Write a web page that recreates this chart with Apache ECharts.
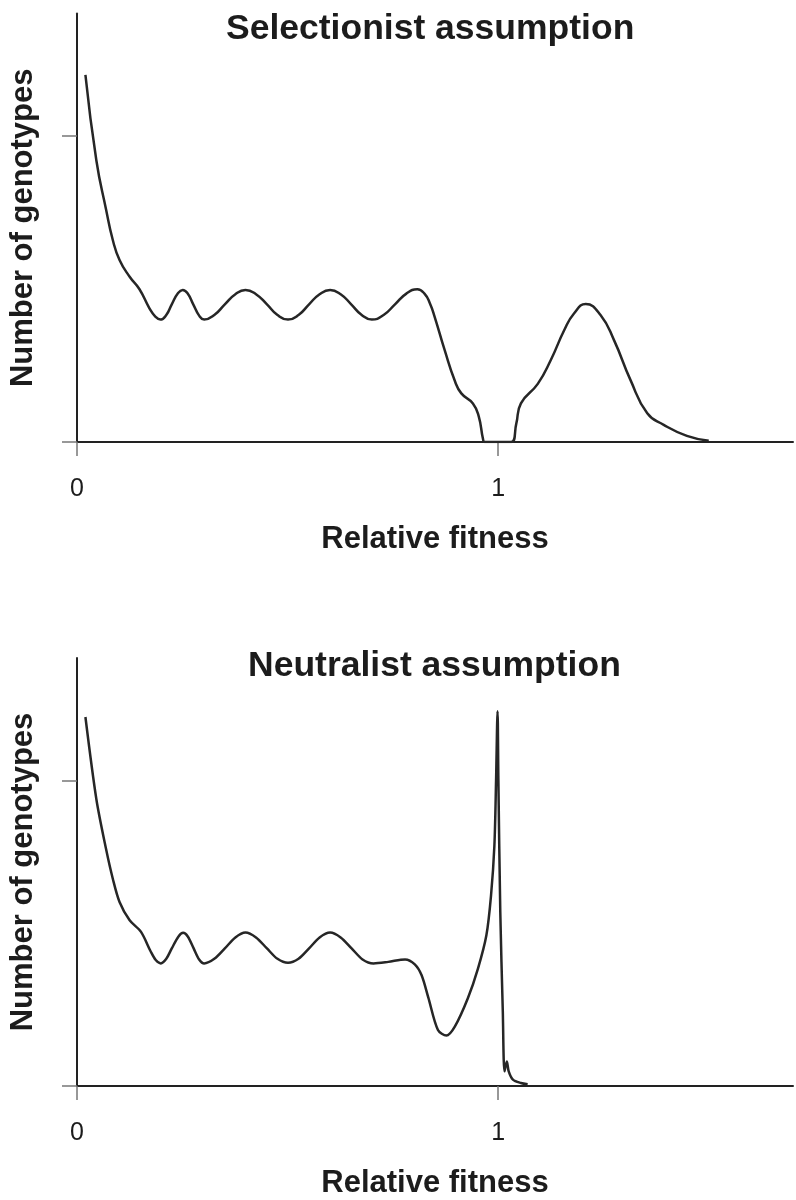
<!DOCTYPE html>
<html>
<head>
<meta charset="utf-8">
<title>Selectionist vs neutralist assumption</title>
<script src="https://cdn.jsdelivr.net/npm/echarts@6/dist/echarts.min.js"></script>
<style>
  html, body { margin: 0; padding: 0; background: #fff; }
  #chart { width: 796px; height: 1200px; }
</style>
</head>
<body>
<div id="chart"></div>
<script>
// Distribution of genotypes over relative fitness, two assumptions.
const panelTitles = ['Selectionist assumption', 'Neutralist assumption'];
const xAxisName = 'Relative fitness';
const yAxisName = 'Number of genotypes';
const xTickValues = [0, 1];
const yTickValues = [0, 1];

// Selectionist: broad bump above 1, gap around 1
const fitnessSel = [0.020, 0.046, 0.069, 0.085, 0.101, 0.125, 0.148, 0.172, 0.186, 0.198,
  0.212, 0.225, 0.240, 0.251, 0.262, 0.276, 0.290, 0.302, 0.326, 0.351,
  0.376, 0.400, 0.425, 0.451, 0.476, 0.501, 0.526, 0.551, 0.576, 0.601,
  0.626, 0.651, 0.676, 0.700, 0.728, 0.755, 0.782, 0.808, 0.825, 0.838,
  0.849, 0.873, 0.897, 0.9125, 0.940, 0.954, 0.964, 0.968, 1.031, 1.043,
  1.054, 1.094, 1.125, 1.157, 1.180, 1.208, 1.243, 1.275, 1.314, 1.354,
  1.393, 1.448, 1.500];
const countSel = [1.200, 0.920, 0.760, 0.660, 0.595, 0.540, 0.500, 0.437, 0.410, 0.400,
  0.415, 0.450, 0.487, 0.497, 0.487, 0.450, 0.413, 0.400, 0.415, 0.450,
  0.483, 0.497, 0.483, 0.450, 0.415, 0.400, 0.415, 0.450, 0.483, 0.497,
  0.483, 0.450, 0.415, 0.400, 0.415, 0.450, 0.485, 0.499, 0.485, 0.453,
  0.410, 0.300, 0.200, 0.159, 0.126, 0.083, 0.010, 0.000, 0.000, 0.060,
  0.126, 0.190, 0.268, 0.366, 0.420, 0.451, 0.415, 0.333, 0.203, 0.094,
  0.056, 0.020, 0.004];

// Neutralist: sharp spike at exactly 1
const fitnessNeu = [0.020, 0.046, 0.069, 0.085, 0.101, 0.125, 0.152, 0.175, 0.187, 0.199,
  0.212, 0.225, 0.241, 0.252, 0.263, 0.277, 0.290, 0.302, 0.326, 0.351,
  0.376, 0.400, 0.425, 0.451, 0.476, 0.501, 0.526, 0.551, 0.576, 0.601,
  0.626, 0.652, 0.678, 0.704, 0.739, 0.779, 0.802, 0.818, 0.834, 0.857,
  0.877, 0.897, 0.928, 0.952, 0.972, 0.983, 0.991, 0.995, 0.9985, 1.0005,
  1.005, 1.011, 1.015, 1.0205, 1.025, 1.035, 1.054, 1.070];
const countNeu = [1.207, 0.938, 0.775, 0.678, 0.602, 0.542, 0.504, 0.440, 0.412, 0.401,
  0.416, 0.450, 0.489, 0.501, 0.489, 0.450, 0.414, 0.401, 0.416, 0.450,
  0.486, 0.502, 0.486, 0.450, 0.416, 0.403, 0.416, 0.450, 0.486, 0.502,
  0.486, 0.450, 0.414, 0.401, 0.406, 0.414, 0.398, 0.363, 0.290, 0.183,
  0.165, 0.194, 0.287, 0.384, 0.493, 0.623, 0.786, 1.000, 1.226, 1.000,
  0.569, 0.243, 0.048, 0.080, 0.048, 0.021, 0.010, 0.006];

const zip = (xs, ys) => xs.map((x, i) => [x, ys[i]]);

const FONT = "'Liberation Sans', Arial, sans-serif";
const INK = '#1c1c1c';

function makeX(gridIndex) {
  return {
    type: 'value', gridIndex, min: 0, max: 1.7,
    name: xAxisName, nameLocation: 'middle', nameGap: 82,
    nameTextStyle: { fontFamily: FONT, fontSize: 31, fontWeight: 'bold', color: INK },
    axisLine: { show: true, lineStyle: { color: '#222', width: 2 } },
    axisTick: { show: true, customValues: xTickValues, length: 14, lineStyle: { color: '#777', width: 1.5 } },
    axisLabel: { show: true, customValues: xTickValues, margin: 35,
      fontFamily: FONT, fontSize: 25, color: INK, formatter: v => String(v) },
    splitLine: { show: false }
  };
}
function makeY(gridIndex) {
  return {
    type: 'value', gridIndex, min: 0, max: 1.4,
    name: yAxisName, nameLocation: 'middle', nameGap: 38,
    nameTextStyle: { fontFamily: FONT, fontSize: 31, fontWeight: 'bold', color: INK },
    axisLine: { show: true, lineStyle: { color: '#222', width: 2 } },
    axisTick: { show: true, customValues: yTickValues, length: 15, lineStyle: { color: '#777', width: 1.5 } },
    axisLabel: { show: false },
    splitLine: { show: false }
  };
}
function makeSeries(i, data, smooth) {
  return {
    type: 'line', xAxisIndex: i, yAxisIndex: i, data, smooth,
    showSymbol: false, symbol: 'none', animation: false,
    lineStyle: { color: '#262626', width: 2.5 }
  };
}

const chart = echarts.init(document.getElementById('chart'), null, { renderer: 'canvas' });
chart.setOption({
  backgroundColor: '#fff',
  animation: false,
  title: [
    { text: panelTitles[0], left: 221, top: 6,
      textStyle: { fontFamily: FONT, fontSize: 35.5, fontWeight: 'bold', color: INK } },
    { text: panelTitles[1], left: 243, top: 643,
      textStyle: { fontFamily: FONT, fontSize: 35.5, fontWeight: 'bold', color: INK } }
  ],
  grid: [
    { left: 74, top: 13.6, width: 719, height: 428.4 },
    { left: 74, top: 658, width: 719, height: 430 }
  ],
  xAxis: [makeX(0), makeX(1)],
  yAxis: [makeY(0), makeY(1)],
  series: [
    makeSeries(0, zip(fitnessSel, countSel), 0.5),
    makeSeries(1, zip(fitnessNeu, countNeu), 0.3)
  ]
});
</script>
</body>
</html>
